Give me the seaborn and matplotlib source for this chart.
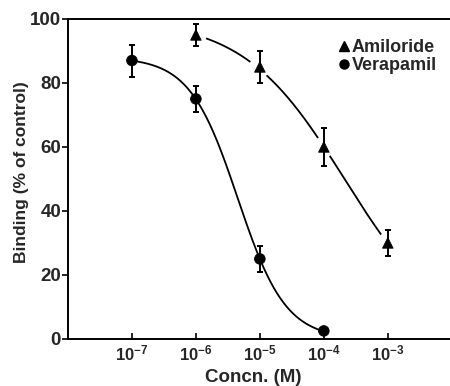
import numpy as np
import pandas as pd
import matplotlib
matplotlib.use("Agg")
import matplotlib.pyplot as plt
from matplotlib.lines import Line2D
import seaborn as sns

# Measured binding (% of control), mean and error
verapamil_conc = [1e-7, 1e-6, 1e-5, 1e-4]
verapamil_binding = [87, 75, 25, 2.5]
verapamil_err = [5, 4, 4, 0]

amiloride_conc = [1e-6, 1e-5, 1e-4, 1e-3]
amiloride_binding = [95, 85, 60, 30]
amiloride_err = [3.5, 5, 6, 4]

# Hill-fit parameters: (top, IC50, slope)
verapamil_fit = (88.0, 4.5e-6, 1.16)
amiloride_fit = (100.0, 2.1e-4, 0.55)

x_ticks = [1e-7, 1e-6, 1e-5, 1e-4, 1e-3]
x_tick_labels = [r"$\mathbf{10^{-7}}$", r"$\mathbf{10^{-6}}$", r"$\mathbf{10^{-5}}$",
                 r"$\mathbf{10^{-4}}$", r"$\mathbf{10^{-3}}$"]
y_ticks = [0, 20, 40, 60, 80, 100]


def hill(x, top, ic50, n):
    return top / (1.0 + (x / ic50) ** n)


sns.set_theme(style="ticks")
plt.rcParams["font.family"] = ["Liberation Sans", "DejaVu Sans"]
plt.rcParams["font.weight"] = "bold"
plt.rcParams["mathtext.fontset"] = "custom"
plt.rcParams["mathtext.rm"] = "Liberation Sans:bold"
plt.rcParams["mathtext.bf"] = "Liberation Sans:bold"
plt.rcParams["mathtext.it"] = "Liberation Sans:bold"

fig = plt.figure(figsize=(4.5, 3.86), dpi=100)
ax = fig.add_axes([0.151, 0.122, 0.853, 0.829])

# Fitted curves
xv = np.logspace(np.log10(verapamil_conc[0]), np.log10(verapamil_conc[-1]), 300)
xa = np.logspace(np.log10(amiloride_conc[0]), np.log10(amiloride_conc[-1]), 300)
curves = pd.concat([
    pd.DataFrame({"conc": xv, "binding": hill(xv, *verapamil_fit), "drug": "Verapamil"}),
    pd.DataFrame({"conc": xa, "binding": hill(xa, *amiloride_fit), "drug": "Amiloride"}),
])
sns.lineplot(data=curves, x="conc", y="binding", hue="drug",
             palette={"Verapamil": "black", "Amiloride": "black"},
             linewidth=1.3, legend=False, ax=ax, zorder=1)

# white halos break the amiloride curve around its points
ax.scatter(amiloride_conc, amiloride_binding, s=240, marker="o",
           color="white", edgecolor="none", zorder=2)

# Error bars
for conc, vals, err in [(verapamil_conc, verapamil_binding, verapamil_err),
                        (amiloride_conc, amiloride_binding, amiloride_err)]:
    ax.errorbar(conc, vals, yerr=err, fmt="none", ecolor="black",
                elinewidth=1.4, capsize=2.3, capthick=1.4, zorder=3)

points = pd.concat([
    pd.DataFrame({"conc": amiloride_conc, "binding": amiloride_binding, "drug": "Amiloride"}),
    pd.DataFrame({"conc": verapamil_conc, "binding": verapamil_binding, "drug": "Verapamil"}),
])
sns.scatterplot(data=points, x="conc", y="binding", style="drug",
                markers={"Amiloride": "^", "Verapamil": "o"},
                color="black", edgecolor="black", s=58, ax=ax, zorder=4,
                legend=False)

ax.set_xscale("log")
ax.set_xlim(1e-8, 1e-2)
ax.set_ylim(0, 100)
ax.set_xticks(x_ticks)
ax.set_xticklabels(x_tick_labels)
ax.minorticks_off()
ax.set_yticks(y_ticks)
ax.set_yticklabels([str(v) for v in y_ticks])

ax.tick_params(axis="x", direction="in", length=4, width=1.2, labelsize=12, pad=3, color="black")
ax.tick_params(axis="y", direction="out", length=4, width=1.2, labelsize=13.5, pad=1, color="black")
for lab in ax.get_yticklabels():
    lab.set_fontweight("bold")

ax.set_xlabel("Concn. (M)", fontsize=13.5, fontweight="bold")
ax.xaxis.set_label_coords(0.484, -0.095)
ax.set_ylabel("Binding (% of control)", fontsize=12.5, fontweight="bold")
ax.yaxis.set_label_coords(-0.102, 0.52)

for side in ["left", "bottom", "top"]:
    ax.spines[side].set_linewidth(1.4)
    ax.spines[side].set_color("black")
ax.spines["right"].set_visible(False)

handles = [Line2D([], [], ls="none", marker="^", color="black", markersize=6.5),
           Line2D([], [], ls="none", marker="o", color="black", markersize=6.5)]
leg = ax.legend(handles=handles, labels=["Amiloride", "Verapamil"], loc="upper right",
                bbox_to_anchor=(0.99, 0.97), frameon=False, fontsize=13,
                handletextpad=0.15, labelspacing=0.05, handlelength=0.6,
                borderaxespad=0.2)
for t in leg.get_texts():
    t.set_fontweight("bold")

fig.savefig("out.png", dpi=100)
